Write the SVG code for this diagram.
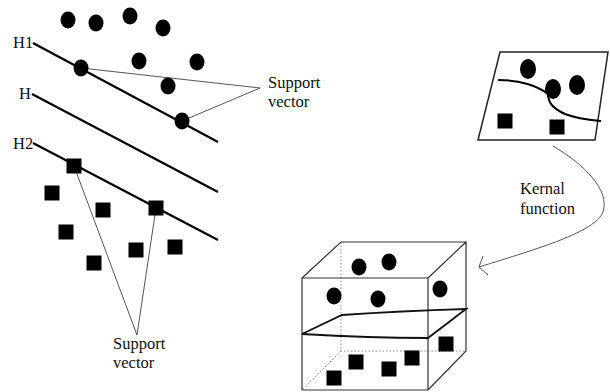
<svg xmlns="http://www.w3.org/2000/svg" width="610" height="392" viewBox="0 0 610 392">
<style>
text{font-family:"Liberation Serif","Times New Roman",serif;font-size:16.5px;fill:#111}
.c{fill:#000}
.s{fill:#000}
.hp{stroke:#000;stroke-width:2.2;fill:none}
.sv{stroke:#555;stroke-width:1;fill:none}
.edge{stroke:#333;stroke-width:1.2;fill:none}
.dot{stroke:#888;stroke-width:1;stroke-dasharray:1.5 2;fill:none}
</style>
<defs>
<ellipse id="pt" cx="0" cy="0" rx="7.5" ry="8.5"/>
<rect id="sq" x="-7.5" y="-7.5" width="15" height="15"/>
</defs>

<g id="connectors">
<line class="sv" x1="81" y1="68" x2="260" y2="88"/>
<line class="sv" x1="182" y1="121" x2="260" y2="88"/>
<line class="sv" x1="74" y1="166" x2="137" y2="335"/>
<line class="sv" x1="156" y1="208" x2="137" y2="335"/>
<path class="sv" d="M553,146 C585,165 610,190 603,212 C595,232 540,248 479,267"/>
<path class="sv" d="M483,256 L479,267 L488,275"/>
</g>

<g id="svm-left">
<line class="hp" x1="33" y1="43" x2="218" y2="142"/>
<line class="hp" x1="32" y1="94" x2="218" y2="192"/>
<line class="hp" x1="33" y1="143" x2="218" y2="240"/>
<text x="13" y="48">H1</text>
<text x="19" y="99">H</text>
<text x="13" y="149">H2</text>
<g class="c">
<use href="#pt" x="68" y="20"/>
<use href="#pt" x="96" y="23"/>
<use href="#pt" x="130" y="16"/>
<use href="#pt" x="163" y="28"/>
<use href="#pt" x="139" y="61"/>
<use href="#pt" x="197" y="62"/>
<use href="#pt" x="168" y="86"/>
<use href="#pt" x="81" y="68"/>
<use href="#pt" x="182" y="121"/>
</g>
<g class="s">
<use href="#sq" x="74" y="166"/>
<use href="#sq" x="52" y="193"/>
<use href="#sq" x="103" y="210"/>
<use href="#sq" x="156" y="208"/>
<use href="#sq" x="66" y="232"/>
<use href="#sq" x="136" y="250"/>
<use href="#sq" x="175" y="247"/>
<use href="#sq" x="94" y="263"/>
</g>
</g>

<g id="label-sv-top"><text x="268" y="88">Support</text><text x="268" y="107">vector</text></g>
<g id="label-sv-bottom"><text x="113" y="349">Support</text><text x="113" y="368">vector</text></g>
<g id="label-kernel"><text x="520" y="194">Kernal</text><text x="520" y="214">function</text></g>

<g id="input-space">
<polygon points="500,52 608,52 595,140 478,140" fill="none" stroke="#222" stroke-width="1.5"/>
<path d="M498,80 C520,80 538,86 548,94 C548,102 552,108 565,114 C578,119 590,120 601,121" fill="none" stroke="#000" stroke-width="2"/>
<g class="c">
<ellipse cx="528" cy="69" rx="8" ry="10"/>
<ellipse cx="553" cy="89" rx="8" ry="10"/>
<ellipse cx="577" cy="85" rx="8" ry="10"/>
</g>
<g class="s">
<use href="#sq" x="505" y="121"/>
<use href="#sq" x="557" y="127"/>
</g>
</g>

<g id="feature-space">
<path class="dot" d="M341,242 L341,351 L466,351 M341,351 L302,390"/>
<path class="edge" d="M302,278 L428,278 L428,390 L302,390 Z M302,278 L341,242 L466,242 L428,278 M466,242 L466,351 L428,390"/>
<path d="M302,334 L342,315 Q400,311 466,309 L428,338 Q370,338 302,334 Z" fill="none" stroke="#111" stroke-width="1.8"/>
<g class="c">
<use href="#pt" x="359" y="267"/>
<use href="#pt" x="389" y="262"/>
<use href="#pt" x="334" y="296"/>
<use href="#pt" x="378" y="299"/>
<use href="#pt" x="440" y="289"/>
</g>
<g class="s">
<use href="#sq" x="356" y="362"/>
<use href="#sq" x="389" y="369"/>
<use href="#sq" x="412" y="358"/>
<use href="#sq" x="446" y="344"/>
<use href="#sq" x="334" y="378"/>
</g>
</g>
</svg>
